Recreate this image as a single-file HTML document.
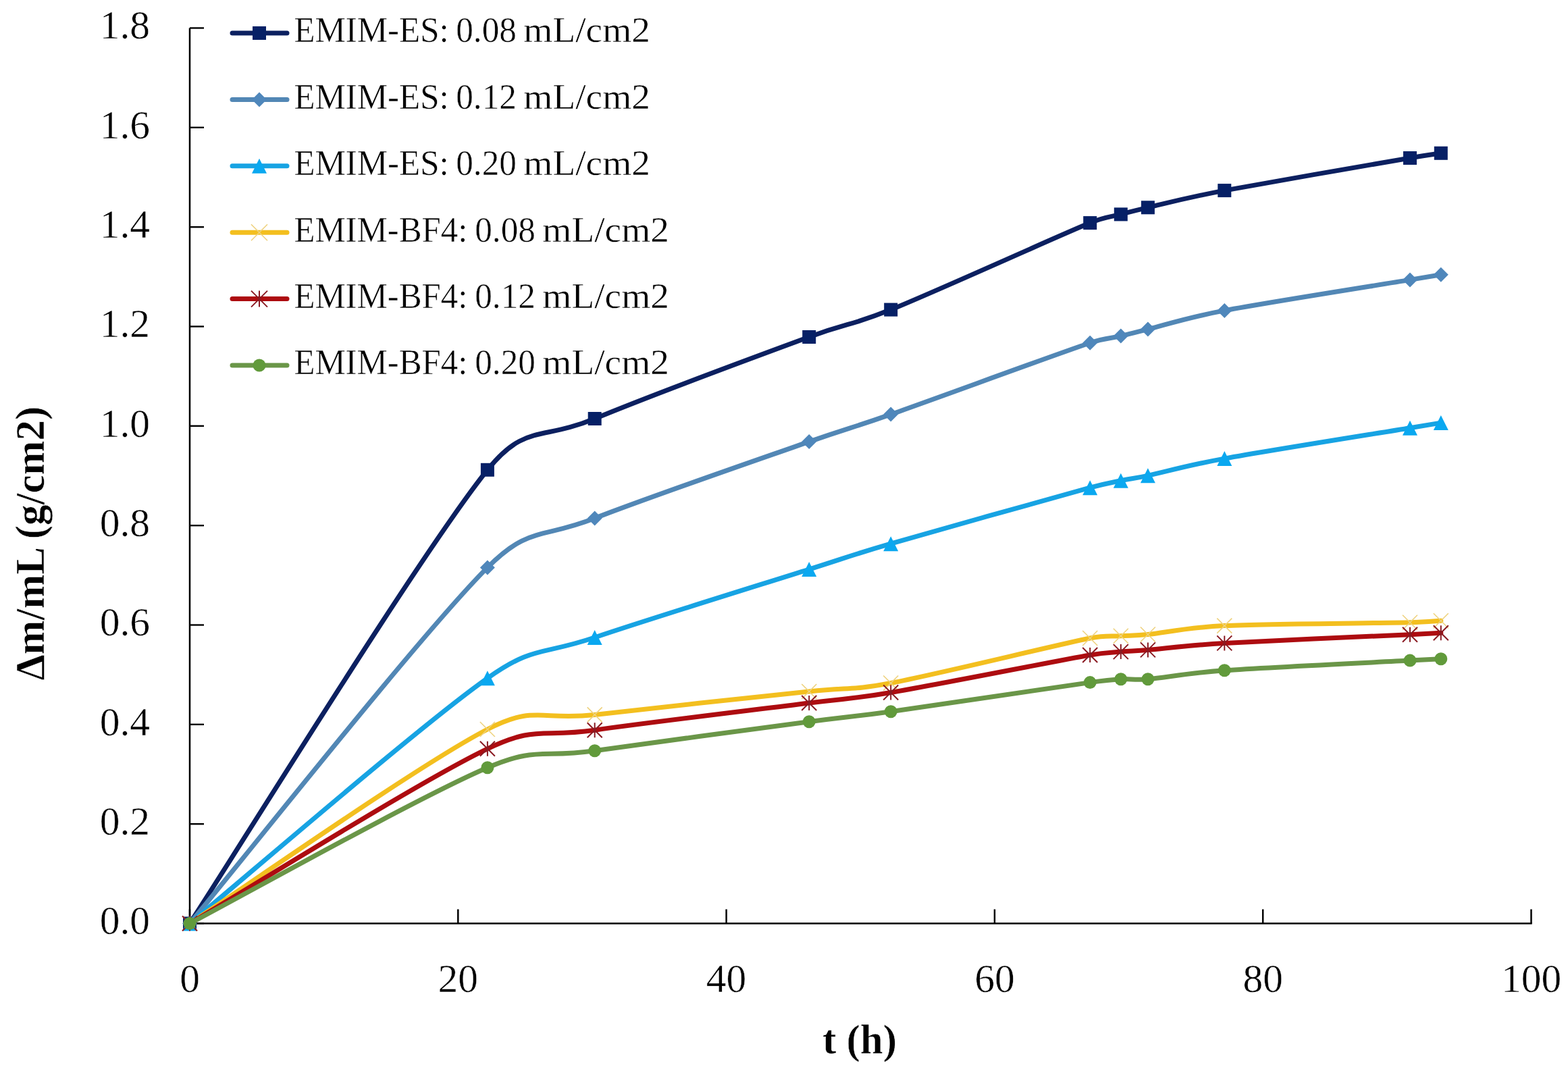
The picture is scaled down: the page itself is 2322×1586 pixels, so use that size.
<!DOCTYPE html>
<html><head><meta charset="utf-8"><title>Chart</title>
<style>html,body{margin:0;padding:0;background:#fff;} svg{display:block;}</style></head>
<body>
<svg width="2322" height="1586" viewBox="0 0 2322 1586" font-family="'Liberation Serif', serif" fill="#000">
<style>text{stroke:#fff;stroke-width:0.5px;}</style>
<rect width="2322" height="1586" fill="#fff"/>
<line x1="281.0" y1="41.5" x2="281.0" y2="1368.5" stroke="#000" stroke-width="2.5"/>
<line x1="280.0" y1="1367.5" x2="2268.7" y2="1367.5" stroke="#000" stroke-width="2.5"/>
<line x1="281.0" y1="1367.5" x2="302.0" y2="1367.5" stroke="#000" stroke-width="2.4"/>
<text x="222" y="1383.3" text-anchor="end" font-size="59.5">0.0</text>
<line x1="281.0" y1="1220.2" x2="302.0" y2="1220.2" stroke="#000" stroke-width="2.4"/>
<text x="222" y="1236.0" text-anchor="end" font-size="59.5">0.2</text>
<line x1="281.0" y1="1072.8" x2="302.0" y2="1072.8" stroke="#000" stroke-width="2.4"/>
<text x="222" y="1088.6" text-anchor="end" font-size="59.5">0.4</text>
<line x1="281.0" y1="925.5" x2="302.0" y2="925.5" stroke="#000" stroke-width="2.4"/>
<text x="222" y="941.3" text-anchor="end" font-size="59.5">0.6</text>
<line x1="281.0" y1="778.2" x2="302.0" y2="778.2" stroke="#000" stroke-width="2.4"/>
<text x="222" y="794.0" text-anchor="end" font-size="59.5">0.8</text>
<line x1="281.0" y1="630.8" x2="302.0" y2="630.8" stroke="#000" stroke-width="2.4"/>
<text x="222" y="646.6" text-anchor="end" font-size="59.5">1.0</text>
<line x1="281.0" y1="483.5" x2="302.0" y2="483.5" stroke="#000" stroke-width="2.4"/>
<text x="222" y="499.3" text-anchor="end" font-size="59.5">1.2</text>
<line x1="281.0" y1="336.2" x2="302.0" y2="336.2" stroke="#000" stroke-width="2.4"/>
<text x="222" y="352.0" text-anchor="end" font-size="59.5">1.4</text>
<line x1="281.0" y1="188.8" x2="302.0" y2="188.8" stroke="#000" stroke-width="2.4"/>
<text x="222" y="204.6" text-anchor="end" font-size="59.5">1.6</text>
<line x1="281.0" y1="41.5" x2="302.0" y2="41.5" stroke="#000" stroke-width="2.4"/>
<text x="222" y="57.3" text-anchor="end" font-size="59.5">1.8</text>
<line x1="281.0" y1="1367.5" x2="281.0" y2="1346.5" stroke="#000" stroke-width="2.5"/>
<text x="281.0" y="1469" text-anchor="middle" font-size="59.5">0</text>
<line x1="678.3" y1="1367.5" x2="678.3" y2="1346.5" stroke="#000" stroke-width="2.5"/>
<text x="678.3" y="1469" text-anchor="middle" font-size="59.5">20</text>
<line x1="1075.6" y1="1367.5" x2="1075.6" y2="1346.5" stroke="#000" stroke-width="2.5"/>
<text x="1075.6" y="1469" text-anchor="middle" font-size="59.5">40</text>
<line x1="1472.9" y1="1367.5" x2="1472.9" y2="1346.5" stroke="#000" stroke-width="2.5"/>
<text x="1472.9" y="1469" text-anchor="middle" font-size="59.5">60</text>
<line x1="1870.2" y1="1367.5" x2="1870.2" y2="1346.5" stroke="#000" stroke-width="2.5"/>
<text x="1870.2" y="1469" text-anchor="middle" font-size="59.5">80</text>
<line x1="2267.5" y1="1367.5" x2="2267.5" y2="1346.5" stroke="#000" stroke-width="2.5"/>
<text x="2267.5" y="1469" text-anchor="middle" font-size="59.5">100</text>
<text x="1273" y="1560" text-anchor="middle" font-size="61" font-weight="bold">t (h)</text>
<text transform="translate(65,804.7) rotate(-90)" x="0" y="0" text-anchor="middle" font-size="61" font-weight="bold">Δm/mL (g/cm2)</text>
<path d="M281.0,1367.5 C354.5,1255.5 621.9,820.4 721.9,695.8 C777.0,627.2 801.3,652.8 880.7,620.0 C960.1,587.2 1125.1,525.9 1198.2,499.0 C1258.1,477.0 1260.1,482.6 1319.2,458.6 C1388.5,430.5 1557.4,353.6 1614.2,330.1 C1636.1,321.0 1645.5,321.2 1659.8,317.4 C1674.1,313.6 1679.7,311.9 1699.9,307.3 C1725.5,301.4 1756.2,292.9 1813.3,282.1 C1878.0,269.9 2034.6,243.2 2088.0,234.0 C2110.8,230.1 2126.2,228.0 2133.8,226.8" fill="none" stroke="#0c2060" stroke-width="7" stroke-linecap="round" stroke-linejoin="round"/>
<rect x="271.0" y="1357.5" width="20" height="20" fill="#062066"/>
<rect x="711.9" y="685.8" width="20" height="20" fill="#062066"/>
<rect x="870.7" y="610.0" width="20" height="20" fill="#062066"/>
<rect x="1188.2" y="489.0" width="20" height="20" fill="#062066"/>
<rect x="1309.2" y="448.6" width="20" height="20" fill="#062066"/>
<rect x="1604.2" y="320.1" width="20" height="20" fill="#062066"/>
<rect x="1649.8" y="307.4" width="20" height="20" fill="#062066"/>
<rect x="1689.9" y="297.3" width="20" height="20" fill="#062066"/>
<rect x="1803.3" y="272.1" width="20" height="20" fill="#062066"/>
<rect x="2078.0" y="224.0" width="20" height="20" fill="#062066"/>
<rect x="2123.8" y="216.8" width="20" height="20" fill="#062066"/>
<path d="M281.0,1367.5 C354.5,1279.7 621.9,940.4 721.9,840.4 C783.7,778.6 801.3,798.5 880.7,767.5 C960.1,736.5 1125.1,679.8 1198.2,654.1 C1258.4,633.0 1259.0,634.8 1319.2,613.6 C1388.5,589.2 1557.4,527.1 1614.2,507.8 C1636.3,500.3 1645.5,501.0 1659.8,497.6 C1674.1,494.2 1679.8,492.5 1699.9,487.6 C1725.5,481.3 1755.9,470.7 1813.3,459.9 C1878.0,447.7 2034.6,423.2 2088.0,414.4 C2110.9,410.6 2126.2,408.1 2133.8,406.8" fill="none" stroke="#5287b5" stroke-width="7" stroke-linecap="round" stroke-linejoin="round"/>
<path d="M281.0,1356.5 L292.0,1367.5 L281.0,1378.5 L270.0,1367.5 Z" fill="#4f87bb"/>
<path d="M721.9,829.4 L732.9,840.4 L721.9,851.4 L710.9,840.4 Z" fill="#4f87bb"/>
<path d="M880.7,756.5 L891.7,767.5 L880.7,778.5 L869.7,767.5 Z" fill="#4f87bb"/>
<path d="M1198.2,643.1 L1209.2,654.1 L1198.2,665.1 L1187.2,654.1 Z" fill="#4f87bb"/>
<path d="M1319.2,602.6 L1330.2,613.6 L1319.2,624.6 L1308.2,613.6 Z" fill="#4f87bb"/>
<path d="M1614.2,496.8 L1625.2,507.8 L1614.2,518.8 L1603.2,507.8 Z" fill="#4f87bb"/>
<path d="M1659.8,486.6 L1670.8,497.6 L1659.8,508.6 L1648.8,497.6 Z" fill="#4f87bb"/>
<path d="M1699.9,476.6 L1710.9,487.6 L1699.9,498.6 L1688.9,487.6 Z" fill="#4f87bb"/>
<path d="M1813.3,448.9 L1824.3,459.9 L1813.3,470.9 L1802.3,459.9 Z" fill="#4f87bb"/>
<path d="M2088.0,403.4 L2099.0,414.4 L2088.0,425.4 L2077.0,414.4 Z" fill="#4f87bb"/>
<path d="M2133.8,395.8 L2144.8,406.8 L2133.8,417.8 L2122.8,406.8 Z" fill="#4f87bb"/>
<path d="M281.0,1367.5 C354.5,1307.0 621.9,1074.9 721.9,1004.3 C791.3,955.3 801.3,970.9 880.7,944.0 C960.1,917.1 1125.1,866.2 1198.2,843.1 C1258.6,824.0 1258.3,822.9 1319.2,805.2 C1388.5,785.1 1557.4,737.8 1614.2,722.2 C1636.8,716.0 1645.5,714.7 1659.8,711.7 C1674.1,708.7 1680.0,708.5 1699.9,704.3 C1725.5,698.9 1756.2,689.5 1813.3,679.1 C1878.0,667.3 2034.6,642.5 2088.0,633.7 C2110.9,629.9 2126.2,627.4 2133.8,626.1" fill="none" stroke="#17a3e3" stroke-width="7" stroke-linecap="round" stroke-linejoin="round"/>
<path d="M281.0,1356.5 L292.0,1378.5 L270.0,1378.5 Z" fill="#0aa8f0"/>
<path d="M721.9,993.3 L732.9,1015.3 L710.9,1015.3 Z" fill="#0aa8f0"/>
<path d="M880.7,933.0 L891.7,955.0 L869.7,955.0 Z" fill="#0aa8f0"/>
<path d="M1198.2,832.1 L1209.2,854.1 L1187.2,854.1 Z" fill="#0aa8f0"/>
<path d="M1319.2,794.2 L1330.2,816.2 L1308.2,816.2 Z" fill="#0aa8f0"/>
<path d="M1614.2,711.2 L1625.2,733.2 L1603.2,733.2 Z" fill="#0aa8f0"/>
<path d="M1659.8,700.7 L1670.8,722.7 L1648.8,722.7 Z" fill="#0aa8f0"/>
<path d="M1699.9,693.3 L1710.9,715.3 L1688.9,715.3 Z" fill="#0aa8f0"/>
<path d="M1813.3,668.1 L1824.3,690.1 L1802.3,690.1 Z" fill="#0aa8f0"/>
<path d="M2088.0,622.7 L2099.0,644.7 L2077.0,644.7 Z" fill="#0aa8f0"/>
<path d="M2133.8,615.1 L2144.8,637.1 L2122.8,637.1 Z" fill="#0aa8f0"/>
<path d="M281.0,1367.5 C354.5,1319.6 621.9,1131.5 721.9,1080.0 C793.1,1043.3 801.3,1067.7 880.7,1058.4 C960.1,1049.1 1125.1,1031.8 1198.2,1024.0 C1258.7,1017.5 1259.4,1022.8 1319.2,1011.5 C1388.5,998.3 1557.4,956.6 1614.2,945.0 C1636.6,940.4 1645.5,942.6 1659.8,941.7 C1674.1,940.8 1679.9,941.5 1699.9,939.5 C1725.5,937.0 1756.3,929.2 1813.3,926.6 C1878.0,923.6 2034.6,923.0 2088.0,921.8 C2110.9,921.3 2126.2,919.7 2133.8,919.3" fill="none" stroke="#f3bf1f" stroke-width="7" stroke-linecap="round" stroke-linejoin="round"/>
<path d="M270.0,1356.5 L292.0,1378.5 M292.0,1356.5 L270.0,1378.5" stroke="#eed27e" stroke-width="1.6" fill="none"/>
<path d="M710.9,1069.0 L732.9,1091.0 M732.9,1069.0 L710.9,1091.0" stroke="#eed27e" stroke-width="1.6" fill="none"/>
<path d="M869.7,1047.4 L891.7,1069.4 M891.7,1047.4 L869.7,1069.4" stroke="#eed27e" stroke-width="1.6" fill="none"/>
<path d="M1187.2,1013.0 L1209.2,1035.0 M1209.2,1013.0 L1187.2,1035.0" stroke="#eed27e" stroke-width="1.6" fill="none"/>
<path d="M1308.2,1000.5 L1330.2,1022.5 M1330.2,1000.5 L1308.2,1022.5" stroke="#eed27e" stroke-width="1.6" fill="none"/>
<path d="M1603.2,934.0 L1625.2,956.0 M1625.2,934.0 L1603.2,956.0" stroke="#eed27e" stroke-width="1.6" fill="none"/>
<path d="M1648.8,930.7 L1670.8,952.7 M1670.8,930.7 L1648.8,952.7" stroke="#eed27e" stroke-width="1.6" fill="none"/>
<path d="M1688.9,928.5 L1710.9,950.5 M1710.9,928.5 L1688.9,950.5" stroke="#eed27e" stroke-width="1.6" fill="none"/>
<path d="M1802.3,915.6 L1824.3,937.6 M1824.3,915.6 L1802.3,937.6" stroke="#eed27e" stroke-width="1.6" fill="none"/>
<path d="M2077.0,910.8 L2099.0,932.8 M2099.0,910.8 L2077.0,932.8" stroke="#eed27e" stroke-width="1.6" fill="none"/>
<path d="M2122.8,908.3 L2144.8,930.3 M2144.8,908.3 L2122.8,930.3" stroke="#eed27e" stroke-width="1.6" fill="none"/>
<path d="M281.0,1367.5 C354.5,1324.4 621.9,1156.5 721.9,1108.8 C794.6,1074.1 801.3,1092.5 880.7,1081.2 C960.1,1069.9 1125.1,1050.3 1198.2,1041.0 C1258.7,1033.3 1259.1,1035.8 1319.2,1025.5 C1388.5,1013.7 1557.4,980.1 1614.2,970.0 C1636.8,966.0 1645.5,966.4 1659.8,965.1 C1674.1,963.8 1679.9,964.1 1699.9,962.4 C1725.5,960.3 1756.5,955.7 1813.3,952.4 C1878.0,948.6 2034.6,942.2 2088.0,939.7 C2110.9,938.6 2126.2,937.7 2133.8,937.3" fill="none" stroke="#ad0c10" stroke-width="7" stroke-linecap="round" stroke-linejoin="round"/>
<path d="M270.0,1356.5 L292.0,1378.5 M292.0,1356.5 L270.0,1378.5 M281.0,1356.5 L281.0,1378.5" stroke="#8a1a22" stroke-width="2" fill="none"/>
<path d="M710.9,1097.8 L732.9,1119.8 M732.9,1097.8 L710.9,1119.8 M721.9,1097.8 L721.9,1119.8" stroke="#8a1a22" stroke-width="2" fill="none"/>
<path d="M869.7,1070.2 L891.7,1092.2 M891.7,1070.2 L869.7,1092.2 M880.7,1070.2 L880.7,1092.2" stroke="#8a1a22" stroke-width="2" fill="none"/>
<path d="M1187.2,1030.0 L1209.2,1052.0 M1209.2,1030.0 L1187.2,1052.0 M1198.2,1030.0 L1198.2,1052.0" stroke="#8a1a22" stroke-width="2" fill="none"/>
<path d="M1308.2,1014.5 L1330.2,1036.5 M1330.2,1014.5 L1308.2,1036.5 M1319.2,1014.5 L1319.2,1036.5" stroke="#8a1a22" stroke-width="2" fill="none"/>
<path d="M1603.2,959.0 L1625.2,981.0 M1625.2,959.0 L1603.2,981.0 M1614.2,959.0 L1614.2,981.0" stroke="#8a1a22" stroke-width="2" fill="none"/>
<path d="M1648.8,954.1 L1670.8,976.1 M1670.8,954.1 L1648.8,976.1 M1659.8,954.1 L1659.8,976.1" stroke="#8a1a22" stroke-width="2" fill="none"/>
<path d="M1688.9,951.4 L1710.9,973.4 M1710.9,951.4 L1688.9,973.4 M1699.9,951.4 L1699.9,973.4" stroke="#8a1a22" stroke-width="2" fill="none"/>
<path d="M1802.3,941.4 L1824.3,963.4 M1824.3,941.4 L1802.3,963.4 M1813.3,941.4 L1813.3,963.4" stroke="#8a1a22" stroke-width="2" fill="none"/>
<path d="M2077.0,928.7 L2099.0,950.7 M2099.0,928.7 L2077.0,950.7 M2088.0,928.7 L2088.0,950.7" stroke="#8a1a22" stroke-width="2" fill="none"/>
<path d="M2122.8,926.3 L2144.8,948.3 M2144.8,926.3 L2122.8,948.3 M2133.8,926.3 L2133.8,948.3" stroke="#8a1a22" stroke-width="2" fill="none"/>
<path d="M281.0,1367.5 C354.5,1329.0 621.9,1179.4 721.9,1136.8 C795.8,1105.3 801.3,1123.0 880.7,1111.7 C960.1,1100.4 1125.1,1078.5 1198.2,1068.8 C1258.6,1060.8 1258.8,1062.1 1319.2,1053.7 C1388.5,1044.0 1557.4,1018.6 1614.2,1010.6 C1636.9,1007.4 1645.5,1006.5 1659.8,1005.7 C1674.1,1004.9 1679.9,1007.4 1699.9,1005.7 C1725.5,1003.6 1756.4,996.8 1813.3,992.8 C1878.0,988.2 2034.6,980.9 2088.0,978.1 C2110.9,976.9 2126.2,976.2 2133.8,975.8" fill="none" stroke="#6a9648" stroke-width="7" stroke-linecap="round" stroke-linejoin="round"/>
<circle cx="281.0" cy="1367.5" r="9.5" fill="#619a3b"/>
<circle cx="721.9" cy="1136.8" r="9.5" fill="#619a3b"/>
<circle cx="880.7" cy="1111.7" r="9.5" fill="#619a3b"/>
<circle cx="1198.2" cy="1068.8" r="9.5" fill="#619a3b"/>
<circle cx="1319.2" cy="1053.7" r="9.5" fill="#619a3b"/>
<circle cx="1614.2" cy="1010.6" r="9.5" fill="#619a3b"/>
<circle cx="1659.8" cy="1005.7" r="9.5" fill="#619a3b"/>
<circle cx="1699.9" cy="1005.7" r="9.5" fill="#619a3b"/>
<circle cx="1813.3" cy="992.8" r="9.5" fill="#619a3b"/>
<circle cx="2088.0" cy="978.1" r="9.5" fill="#619a3b"/>
<circle cx="2133.8" cy="975.8" r="9.5" fill="#619a3b"/>
<line x1="344" y1="49.0" x2="425" y2="49.0" stroke="#0c2060" stroke-width="7" stroke-linecap="round"/>
<rect x="374.0" y="39.0" width="20" height="20" fill="#062066"/>
<text x="435.42" y="62.4" font-size="52" textLength="229.20" lengthAdjust="spacingAndGlyphs">EMIM-ES:</text>
<text x="675.23" y="62.4" font-size="52" textLength="89.74" lengthAdjust="spacingAndGlyphs">0.08</text>
<text x="775.34" y="62.4" font-size="52" textLength="187.56" lengthAdjust="spacingAndGlyphs">mL/cm2</text>
<line x1="344" y1="147.4" x2="425" y2="147.4" stroke="#5287b5" stroke-width="7" stroke-linecap="round"/>
<path d="M384.0,136.4 L395.0,147.4 L384.0,158.4 L373.0,147.4 Z" fill="#4f87bb"/>
<text x="435.42" y="160.8" font-size="52" textLength="229.20" lengthAdjust="spacingAndGlyphs">EMIM-ES:</text>
<text x="675.23" y="160.8" font-size="52" textLength="89.74" lengthAdjust="spacingAndGlyphs">0.12</text>
<text x="775.34" y="160.8" font-size="52" textLength="187.56" lengthAdjust="spacingAndGlyphs">mL/cm2</text>
<line x1="344" y1="245.8" x2="425" y2="245.8" stroke="#17a3e3" stroke-width="7" stroke-linecap="round"/>
<path d="M384.0,234.8 L395.0,256.8 L373.0,256.8 Z" fill="#0aa8f0"/>
<text x="435.42" y="259.2" font-size="52" textLength="229.20" lengthAdjust="spacingAndGlyphs">EMIM-ES:</text>
<text x="675.23" y="259.2" font-size="52" textLength="89.74" lengthAdjust="spacingAndGlyphs">0.20</text>
<text x="775.34" y="259.2" font-size="52" textLength="187.56" lengthAdjust="spacingAndGlyphs">mL/cm2</text>
<line x1="344" y1="344.2" x2="425" y2="344.2" stroke="#f3bf1f" stroke-width="7" stroke-linecap="round"/>
<path d="M372.0,332.2 L396.0,356.2 M396.0,332.2 L372.0,356.2" stroke="#eed27e" stroke-width="1.6" fill="none"/>
<text x="435.42" y="357.6" font-size="52" textLength="256.91" lengthAdjust="spacingAndGlyphs">EMIM-BF4:</text>
<text x="703.23" y="357.6" font-size="52" textLength="89.74" lengthAdjust="spacingAndGlyphs">0.08</text>
<text x="803.34" y="357.6" font-size="52" textLength="187.56" lengthAdjust="spacingAndGlyphs">mL/cm2</text>
<line x1="344" y1="442.6" x2="425" y2="442.6" stroke="#ad0c10" stroke-width="7" stroke-linecap="round"/>
<path d="M372.0,430.6 L396.0,454.6 M396.0,430.6 L372.0,454.6 M384.0,430.6 L384.0,454.6" stroke="#8a1a22" stroke-width="2" fill="none"/>
<text x="435.42" y="456.0" font-size="52" textLength="256.91" lengthAdjust="spacingAndGlyphs">EMIM-BF4:</text>
<text x="703.23" y="456.0" font-size="52" textLength="89.74" lengthAdjust="spacingAndGlyphs">0.12</text>
<text x="803.34" y="456.0" font-size="52" textLength="187.56" lengthAdjust="spacingAndGlyphs">mL/cm2</text>
<line x1="344" y1="541.0" x2="425" y2="541.0" stroke="#6a9648" stroke-width="7" stroke-linecap="round"/>
<circle cx="384.0" cy="541.0" r="9.5" fill="#619a3b"/>
<text x="435.42" y="554.4" font-size="52" textLength="256.91" lengthAdjust="spacingAndGlyphs">EMIM-BF4:</text>
<text x="703.23" y="554.4" font-size="52" textLength="89.74" lengthAdjust="spacingAndGlyphs">0.20</text>
<text x="803.34" y="554.4" font-size="52" textLength="187.56" lengthAdjust="spacingAndGlyphs">mL/cm2</text>
</svg>
</body></html>
